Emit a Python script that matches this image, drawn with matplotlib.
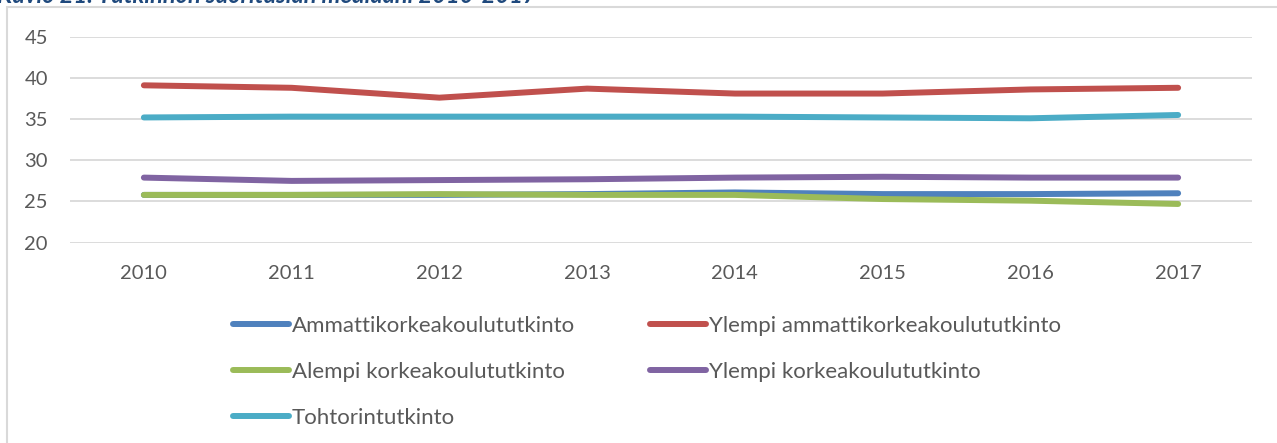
import matplotlib
matplotlib.use("Agg")
import matplotlib.pyplot as plt
from matplotlib.patches import Rectangle

plt.rcParams['font.family'] = ['Lato', 'DejaVu Sans']

# data
years = ['2010', '2011', '2012', '2013', '2014', '2015', '2016', '2017']
amk = [25.8, 25.8, 25.8, 25.9, 26.1, 25.9, 25.9, 26.0]
ylempi_amk = [39.1, 38.8, 37.6, 38.7, 38.1, 38.1, 38.6, 38.8]
alempi_kk = [25.8, 25.8, 25.9, 25.8, 25.8, 25.3, 25.1, 24.7]
ylempi_kk = [27.9, 27.5, 27.6, 27.7, 27.9, 28.0, 27.9, 27.9]
tohtori = [35.2, 35.3, 35.3, 35.3, 35.3, 35.2, 35.1, 35.5]

names = ['Ammattikorkeakoulututkinto', 'Ylempi ammattikorkeakoulututkinto',
         'Alempi korkeakoulututkinto', 'Ylempi korkeakoulututkinto',
         'Tohtorintutkinto']
series = [amk, ylempi_amk, alempi_kk, ylempi_kk, tohtori]
colors = ['#4F81BD', '#C0504D', '#9BBB59', '#8064A2', '#4BACC6']
yticks = [20, 25, 30, 35, 40, 45]

W, H = 1277, 443
fig = plt.figure(figsize=(W/100, H/100), dpi=100)

def fx(px):
    return px / W

def fy(py):
    return 1 - py / H

# chart frame (cut by the image edges on right and bottom)
fig.patches.append(Rectangle((fx(7), fy(H + 20)), 2, fy(7) - fy(H + 20),
                             transform=fig.transFigure, fill=False,
                             edgecolor='#D9D9D9', linewidth=1.5))

# caption, mostly cut off at the top like in the source
fig.text(fx(-3), fy(3), 'Kuvio 21. Tutkinnon suoritusiän mediaani 2010-2017',
         fontsize=17, style='italic', fontweight='bold', color='#1F497D',
         ha='left', va='baseline')

ax = fig.add_axes([fx(70), fy(242.7), fx(1252) - fx(70), fy(36.7) - fy(242.7)])

x = range(len(years))
lines = []
for vals, name, c in zip(series, names, colors):
    ln, = ax.plot(x, vals, color=c, linewidth=4.3, solid_capstyle='round',
                  solid_joinstyle='round', label=name)
    lines.append(ln)

ax.set_xlim(-0.5, len(years) - 0.5)
ax.set_ylim(20, 45)
ax.set_yticks(yticks)
ax.set_xticks(list(x))
ax.set_xticklabels(years)
for s in ax.spines.values():
    s.set_visible(False)
ax.grid(axis='y', color='#D9D9D9', linewidth=1.3)
ax.set_axisbelow(True)
ax.tick_params(axis='both', length=0, labelsize=14.5, labelcolor='#595959')
ax.tick_params(axis='y', pad=16)
ax.tick_params(axis='x', pad=16)

# legend in two columns laid out row-wise
leg_kw = dict(frameon=False, fontsize=16, handlelength=2.5, handletextpad=0.15,
              labelspacing=1.16, borderpad=0, borderaxespad=0, loc='upper left',
              labelcolor='#595959')
leg1 = fig.legend([lines[0], lines[2], lines[4]], [names[0], names[2], names[4]],
                  bbox_to_anchor=(fx(233), fy(316)), **leg_kw)
leg2 = fig.legend([lines[1], lines[3]], [names[1], names[3]],
                  bbox_to_anchor=(fx(650), fy(316)), **leg_kw)

fig.savefig('out.png', dpi=100)
